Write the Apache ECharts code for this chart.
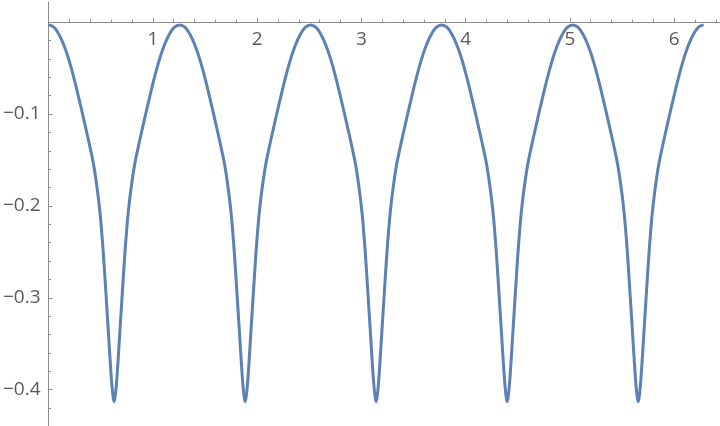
<!DOCTYPE html>
<html>
<head>
<meta charset="utf-8">
<script src="https://cdn.jsdelivr.net/npm/echarts@6/dist/echarts.min.js"></script>
<style>
html,body{margin:0;padding:0;background:#fff;}
#c{width:720px;height:426px;}
</style>
</head>
<body>
<div id="c"></div>
<script>
// x positions (radians)
var xs = [
 0, 0.05, 0.1, 0.15, 0.2, 0.25, 0.3, 0.35, 0.4, 0.43, 0.455, 0.475, 0.49, 0.5, 0.51, 0.525, 0.55, 0.575, 0.595, 0.608, 0.619, 0.628,
 0.638, 0.649, 0.662, 0.682, 0.707, 0.732, 0.747, 0.757, 0.767, 0.782, 0.802, 0.827, 0.857, 0.907, 0.957, 1.007, 1.057, 1.107, 1.157, 1.207,
 1.257, 1.307, 1.357, 1.407, 1.457, 1.507, 1.557, 1.607, 1.657, 1.687, 1.712, 1.732, 1.747, 1.757, 1.767, 1.782, 1.807, 1.832, 1.852, 1.865, 1.876, 1.885,
 1.895, 1.906, 1.919, 1.939, 1.964, 1.989, 2.004, 2.014, 2.024, 2.039, 2.059, 2.084, 2.114, 2.164, 2.214, 2.264, 2.314, 2.364, 2.414, 2.464,
 2.513, 2.563, 2.613, 2.663, 2.713, 2.763, 2.813, 2.863, 2.913, 2.943, 2.968, 2.988, 3.003, 3.013, 3.023, 3.038, 3.063, 3.088, 3.108, 3.121, 3.132, 3.142,
 3.151, 3.162, 3.175, 3.195, 3.220, 3.245, 3.260, 3.270, 3.280, 3.295, 3.315, 3.340, 3.370, 3.420, 3.470, 3.520, 3.570, 3.620, 3.670, 3.720,
 3.770, 3.820, 3.870, 3.920, 3.970, 4.020, 4.070, 4.120, 4.170, 4.200, 4.225, 4.245, 4.260, 4.270, 4.280, 4.295, 4.320, 4.345, 4.365, 4.378, 4.389, 4.398,
 4.408, 4.419, 4.432, 4.452, 4.477, 4.502, 4.517, 4.527, 4.537, 4.552, 4.572, 4.597, 4.627, 4.677, 4.727, 4.777, 4.827, 4.877, 4.927, 4.977,
 5.027, 5.077, 5.127, 5.177, 5.227, 5.277, 5.327, 5.377, 5.427, 5.457, 5.482, 5.502, 5.517, 5.527, 5.537, 5.552, 5.577, 5.602, 5.622, 5.635, 5.646, 5.655,
 5.665, 5.676, 5.689, 5.709, 5.734, 5.759, 5.774, 5.784, 5.794, 5.809, 5.829, 5.854, 5.884, 5.934, 5.984, 6.034, 6.084, 6.134, 6.184, 6.234,
 6.283
];
// curve values
var ys = [
 -0.003, -0.0055, -0.0135, -0.026, -0.043, -0.064, -0.0875, -0.112, -0.1375, -0.154, -0.172, -0.189, -0.204, -0.2155, -0.229, -0.2513, -0.295, -0.340, -0.376, -0.3962, -0.4078, -0.413,
 -0.4078, -0.3962, -0.376, -0.340, -0.295, -0.2513, -0.229, -0.2155, -0.204, -0.189, -0.172, -0.154, -0.1375, -0.112, -0.0875, -0.064, -0.043, -0.026, -0.0135, -0.0055,
 -0.003, -0.0055, -0.0135, -0.026, -0.043, -0.064, -0.0875, -0.112, -0.1375, -0.154, -0.172, -0.189, -0.204, -0.2155, -0.229, -0.2513, -0.295, -0.340, -0.376, -0.3962, -0.4078, -0.413,
 -0.4078, -0.3962, -0.376, -0.340, -0.295, -0.2513, -0.229, -0.2155, -0.204, -0.189, -0.172, -0.154, -0.1375, -0.112, -0.0875, -0.064, -0.043, -0.026, -0.0135, -0.0055,
 -0.003, -0.0055, -0.0135, -0.026, -0.043, -0.064, -0.0875, -0.112, -0.1375, -0.154, -0.172, -0.189, -0.204, -0.2155, -0.229, -0.2513, -0.295, -0.340, -0.376, -0.3962, -0.4078, -0.413,
 -0.4078, -0.3962, -0.376, -0.340, -0.295, -0.2513, -0.229, -0.2155, -0.204, -0.189, -0.172, -0.154, -0.1375, -0.112, -0.0875, -0.064, -0.043, -0.026, -0.0135, -0.0055,
 -0.003, -0.0055, -0.0135, -0.026, -0.043, -0.064, -0.0875, -0.112, -0.1375, -0.154, -0.172, -0.189, -0.204, -0.2155, -0.229, -0.2513, -0.295, -0.340, -0.376, -0.3962, -0.4078, -0.413,
 -0.4078, -0.3962, -0.376, -0.340, -0.295, -0.2513, -0.229, -0.2155, -0.204, -0.189, -0.172, -0.154, -0.1375, -0.112, -0.0875, -0.064, -0.043, -0.026, -0.0135, -0.0055,
 -0.003, -0.0055, -0.0135, -0.026, -0.043, -0.064, -0.0875, -0.112, -0.1375, -0.154, -0.172, -0.189, -0.204, -0.2155, -0.229, -0.2513, -0.295, -0.340, -0.376, -0.3962, -0.4078, -0.413,
 -0.4078, -0.3962, -0.376, -0.340, -0.295, -0.2513, -0.229, -0.2155, -0.204, -0.189, -0.172, -0.154, -0.1375, -0.112, -0.0875, -0.064, -0.043, -0.026, -0.0135, -0.0055,
 -0.003
];
var xMajorTicks = [1, 2, 3, 4, 5, 6];
var xMajorLabels = ['1', '2', '3', '4', '5', '6'];
var xMinorTicks = [0.2, 0.4, 0.6, 0.8, 1.2, 1.4, 1.6, 1.8, 2.2, 2.4, 2.6, 2.8, 3.2, 3.4, 3.6, 3.8, 4.2, 4.4, 4.6, 4.8, 5.2, 5.4, 5.6, 5.8, 6.2, 6.4];
var yMajorTicks = [-0.4, -0.3, -0.2, -0.1];
var yMajorLabels = ['\u22120.4', '\u22120.3', '\u22120.2', '\u22120.1'];
var yMinorTicks = [-0.42, -0.38, -0.36, -0.34, -0.32, -0.28, -0.26, -0.24, -0.22, -0.18, -0.16, -0.14, -0.12, -0.08, -0.06, -0.04, -0.02];

var AXIS = '#8c8c8c';
var LABEL = '#595959';
var FONT = 'Open Sans';
var X_MIN = 0, X_MAX = 6.44, Y_MIN = -0.4395, Y_MAX = 0.0219;
var GRID_TOP = 2, GRID_H = 424;
// pixel distance from the grid top down to the y = 0 line
var zeroOffset = GRID_H * Y_MAX / (Y_MAX - Y_MIN);

function lab(vals, labels) {
  return function (v) {
    for (var i = 0; i < vals.length; i++) if (Math.abs(vals[i] - v) < 1e-9) return labels[i];
    return '';
  };
}

var chart = echarts.init(document.getElementById('c'), null, {renderer: 'canvas'});
chart.setOption({
  animation: false,
  backgroundColor: '#ffffff',
  grid: {left: 47, right: 0, top: GRID_TOP, height: GRID_H, containLabel: false},
  xAxis: [{
    type: 'value', min: X_MIN, max: X_MAX, position: 'top', offset: -zeroOffset,
    axisLine: {show: true, onZero: false, lineStyle: {color: AXIS, width: 1}},
    axisTick: {show: true, inside: false, length: 4, customValues: xMajorTicks, lineStyle: {color: AXIS}},
    axisLabel: {show: true, inside: true, customValues: xMajorTicks, formatter: lab(xMajorTicks, xMajorLabels),
      color: LABEL, fontFamily: FONT, fontSize: 19, margin: 8},
    splitLine: {show: false}
  }, {
    type: 'value', min: X_MIN, max: X_MAX, position: 'top', offset: -zeroOffset,
    axisLine: {show: false, onZero: false},
    axisTick: {show: true, inside: false, length: 2.5, customValues: xMinorTicks, lineStyle: {color: AXIS}},
    axisLabel: {show: false},
    splitLine: {show: false}
  }],
  yAxis: [{
    type: 'value', min: Y_MIN, max: Y_MAX, position: 'left',
    axisLine: {show: true, onZero: false, lineStyle: {color: AXIS, width: 1}},
    axisTick: {show: true, inside: true, length: 4, customValues: yMajorTicks, lineStyle: {color: AXIS}},
    axisLabel: {show: true, customValues: yMajorTicks, formatter: lab(yMajorTicks, yMajorLabels),
      color: LABEL, fontFamily: FONT, fontSize: 19, margin: 8},
    splitLine: {show: false}
  }, {
    type: 'value', min: Y_MIN, max: Y_MAX, position: 'left',
    axisLine: {show: false, onZero: false},
    axisTick: {show: true, inside: true, length: 2.5, customValues: yMinorTicks, lineStyle: {color: AXIS}},
    axisLabel: {show: false},
    splitLine: {show: false}
  }],
  series: [{
    type: 'line',
    xAxisIndex: 0, yAxisIndex: 0,
    data: xs.map(function (x, i) { return [x, ys[i]]; }),
    showSymbol: false,
    smooth: 0.4,
    lineStyle: {color: '#5E81B5', width: 3},
    clip: false
  }]
});
</script>
</body>
</html>
